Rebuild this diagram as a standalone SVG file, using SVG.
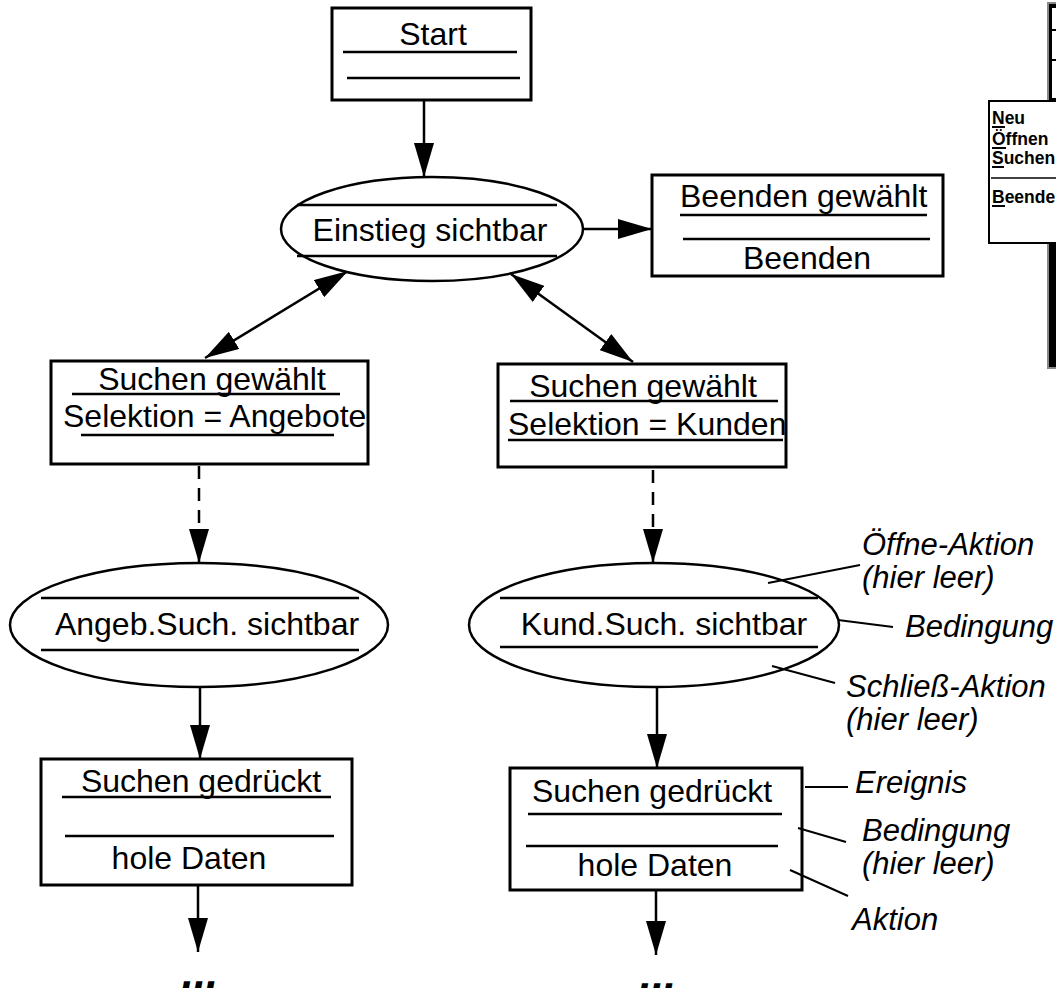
<svg xmlns="http://www.w3.org/2000/svg" width="1056" height="988" viewBox="0 0 1056 988">
  <style>
    .box { fill: #fff; stroke: #000; stroke-width: 3; }
    .st { fill: #fff; stroke: #000; stroke-width: 2.5; }
    .sep { stroke: #000; stroke-width: 2.5; fill: none; }
    .t { font-family: "Liberation Sans", Arial, sans-serif; font-size: 32px; fill: #000; }
    .c { text-anchor: middle; }
    .ann { font-family: "Liberation Sans", Arial, sans-serif; font-size: 31px; font-style: italic; fill: #000; }
    .menu { font-family: "Liberation Sans", Arial, sans-serif; font-size: 17.5px; font-weight: bold; fill: #000; }
    .dots { font-family: "Liberation Sans", Arial, sans-serif; font-size: 44px; font-weight: bold; font-style: italic; fill: #000; text-anchor: middle; }
    .edge { stroke: #000; stroke-width: 2.5; fill: none; }
    .dash { stroke-dasharray: 13 9; }
    .lead { stroke: #000; stroke-width: 2; fill: none; }
  </style>
  <defs>
    <marker id="head" markerUnits="userSpaceOnUse" markerWidth="34" markerHeight="20" refX="34" refY="10" orient="auto-start-reverse">
      <path d="M0,0 L34,10 L0,20 z" fill="#000"/>
    </marker>
  </defs>

  <rect width="1056" height="988" fill="#fff"/>

  <!-- application window with file menu, right edge -->
  <g id="window">
    <rect x="1048" y="3" width="20" height="365" fill="#000" stroke="#888" stroke-width="2"/>
    <rect x="1052" y="8" width="12" height="90" fill="#fff"/>
    <line x1="1052" y1="30" x2="1056" y2="30" stroke="#000" stroke-width="2"/>
    <line x1="1052" y1="60" x2="1056" y2="60" stroke="#000" stroke-width="2"/>
    <rect x="989" y="101" width="80" height="142" fill="#fff" stroke="#000" stroke-width="2"/>
    <text class="menu" x="992" y="124">Neu</text>
    <text class="menu" x="992" y="145">Öffnen</text>
    <text class="menu" x="992" y="164">Suchen</text>
    <line x1="991" y1="178" x2="1060" y2="178" stroke="#000" stroke-width="1.5"/>
    <text class="menu" x="992" y="203">Beenden</text>
    <g stroke="#000" stroke-width="2">
      <line x1="992" y1="127" x2="1005" y2="127"/>
      <line x1="992" y1="148" x2="1006" y2="148"/>
      <line x1="992" y1="167" x2="1004" y2="167"/>
      <line x1="992" y1="206" x2="1005" y2="206"/>
    </g>
  </g>

  <!-- connectors -->
  <g id="connectors">
    <line class="edge" x1="424" y1="100" x2="424" y2="177" marker-end="url(#head)"/>
    <line class="edge" x1="583" y1="229" x2="652" y2="229" marker-end="url(#head)"/>
    <line class="edge" x1="205" y1="358" x2="348" y2="271" marker-start="url(#head)" marker-end="url(#head)"/>
    <line class="edge" x1="633" y1="362" x2="511" y2="274" marker-start="url(#head)" marker-end="url(#head)"/>
    <line class="edge dash" x1="199" y1="466" x2="199" y2="563" marker-end="url(#head)"/>
    <line class="edge dash" x1="653" y1="470" x2="653" y2="563" marker-end="url(#head)"/>
    <line class="edge" x1="200" y1="687" x2="200" y2="759" marker-end="url(#head)"/>
    <line class="edge" x1="657" y1="688" x2="657" y2="768" marker-end="url(#head)"/>
    <line class="edge" x1="198" y1="886" x2="198" y2="952" marker-end="url(#head)"/>
    <line class="edge" x1="656" y1="891" x2="656" y2="955" marker-end="url(#head)"/>
  </g>

  <g id="start">
    <rect class="box" x="332" y="8" width="199" height="92"/>
    <text class="t c" x="433" y="45">Start</text>
    <line class="sep" x1="343" y1="52" x2="517" y2="52"/>
    <line class="sep" x1="347" y1="78" x2="520" y2="78"/>
  </g>

  <g id="einstieg">
    <ellipse class="st" cx="432" cy="229" rx="151" ry="52"/>
    <line class="sep" x1="297" y1="205" x2="557" y2="205"/>
    <text class="t c" x="430" y="241">Einstieg sichtbar</text>
    <line class="sep" x1="297" y1="256" x2="557" y2="256"/>
  </g>

  <g id="beenden">
    <rect class="box" x="652" y="175" width="291" height="101"/>
    <text class="t" x="680" y="207">Beenden gewählt</text>
    <line class="sep" x1="680" y1="215" x2="927" y2="215"/>
    <line class="sep" x1="683" y1="239" x2="930" y2="239"/>
    <text class="t c" x="807" y="269">Beenden</text>
  </g>

  <g id="suchen-angebote">
    <rect class="box" x="51" y="361" width="317" height="103"/>
    <text class="t c" x="212" y="390">Suchen gewählt</text>
    <line class="sep" x1="72" y1="394" x2="340" y2="394"/>
    <text class="t" x="63" y="427">Selektion = Angebote</text>
    <line class="sep" x1="81" y1="435" x2="334" y2="435"/>
  </g>

  <g id="suchen-kunden">
    <rect class="box" x="498" y="364" width="288" height="103"/>
    <text class="t c" x="643" y="397">Suchen gewählt</text>
    <line class="sep" x1="510" y1="401" x2="778" y2="401"/>
    <text class="t" x="508" y="435">Selektion = Kunden</text>
    <line class="sep" x1="508" y1="440" x2="783" y2="440"/>
  </g>

  <g id="angeb-such">
    <ellipse class="st" cx="199" cy="625" rx="189" ry="62"/>
    <line class="sep" x1="41" y1="598" x2="359" y2="598"/>
    <text class="t c" x="207" y="635">Angeb.Such. sichtbar</text>
    <line class="sep" x1="41" y1="650" x2="359" y2="650"/>
  </g>

  <g id="kund-such">
    <ellipse class="st" cx="654" cy="625" rx="185" ry="62"/>
    <line class="sep" x1="500" y1="598" x2="818" y2="598"/>
    <text class="t c" x="664" y="635">Kund.Such. sichtbar</text>
    <line class="sep" x1="500" y1="647" x2="818" y2="647"/>
  </g>

  <g id="gedrueckt-angebote">
    <rect class="box" x="41" y="759" width="311" height="126"/>
    <text class="t c" x="201" y="792">Suchen gedrückt</text>
    <line class="sep" x1="62" y1="797" x2="331" y2="797"/>
    <line class="sep" x1="65" y1="836" x2="334" y2="836"/>
    <text class="t c" x="189" y="869">hole Daten</text>
  </g>

  <g id="gedrueckt-kunden">
    <rect class="box" x="510" y="768" width="292" height="122"/>
    <text class="t c" x="652" y="802">Suchen gedrückt</text>
    <line class="sep" x1="528" y1="814" x2="782" y2="814"/>
    <line class="sep" x1="526" y1="846" x2="778" y2="846"/>
    <text class="t c" x="655" y="876">hole Daten</text>
  </g>

  <!-- continuation marks -->
  <text class="dots" x="200" y="988">...</text>
  <text class="dots" x="658" y="990">...</text>

  <!-- annotations -->
  <g id="annotations">
    <line class="lead" x1="768" y1="583" x2="860" y2="565"/>
    <text class="ann" x="862" y="555">Öffne-Aktion</text>
    <text class="ann" x="862" y="588">(hier leer)</text>
    <line class="lead" x1="838" y1="620" x2="893" y2="627"/>
    <text class="ann" x="905" y="637">Bedingung</text>
    <line class="lead" x1="772" y1="666" x2="835" y2="683"/>
    <text class="ann" x="846" y="697">Schließ-Aktion</text>
    <text class="ann" x="846" y="730">(hier leer)</text>
    <line class="lead" x1="805" y1="787" x2="848" y2="787"/>
    <text class="ann" x="855" y="793">Ereignis</text>
    <line class="lead" x1="798" y1="828" x2="846" y2="842"/>
    <text class="ann" x="862" y="841">Bedingung</text>
    <text class="ann" x="862" y="874">(hier leer)</text>
    <line class="lead" x1="790" y1="870" x2="848" y2="896"/>
    <text class="ann" x="852" y="930">Aktion</text>
  </g>
</svg>
